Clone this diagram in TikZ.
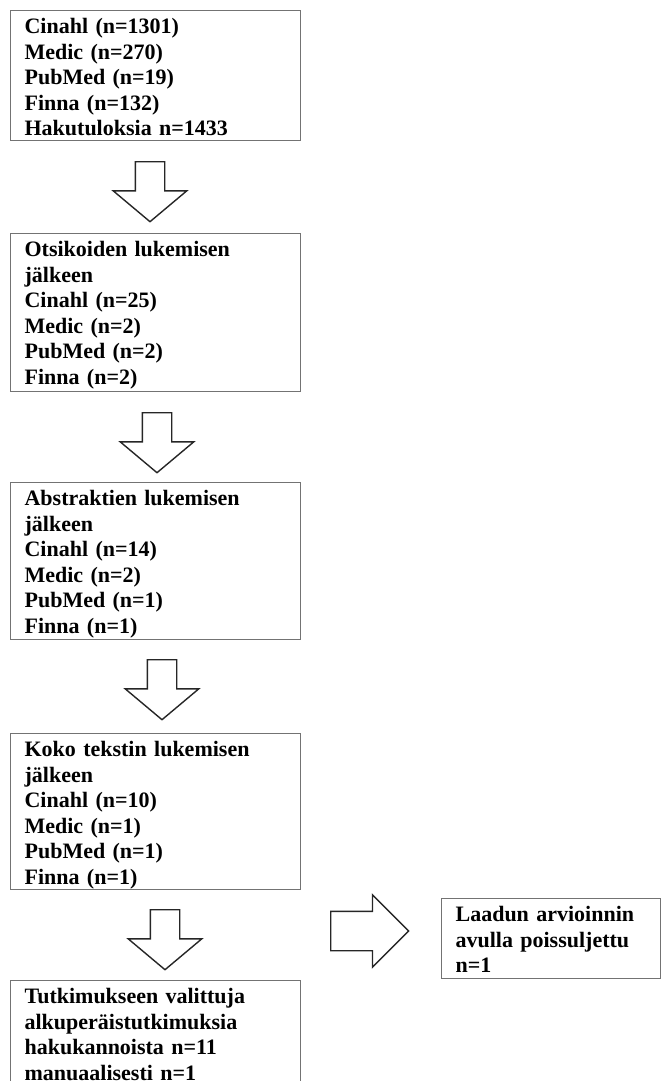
\documentclass[tikz,border=0pt]{standalone}
\usepackage{fontspec}
\setmainfont{Liberation Serif}
\usetikzlibrary{shapes.arrows}

\tikzset{
  stage/.style={draw=black!55, line width=1.2pt, anchor=north west,
    minimum width=290pt, text width=262pt, align=left,
    inner xsep=14pt, inner ysep=8pt, text height=15pt,
    font=\fontsize{22}{25.5}\selectfont\bfseries},
  downarrow/.style={draw=black!85, line width=1.4pt, single arrow,
    single arrow head extend=22pt, single arrow tip angle=100,
    minimum height=60pt, inner xsep=0pt, inner ysep=14pt,
    rotate=-90, anchor=tail},
  sidearrow/.style={draw=black!85, line width=1.4pt, single arrow,
    single arrow head extend=16.5pt, single arrow tip angle=90,
    minimum height=78pt, inner xsep=0pt, inner ysep=19pt, anchor=tail}
}

\begin{document}
\begin{tikzpicture}[x=1pt, y=-1pt]
    \useasboundingbox (0,0) rectangle (661,1081);
    \clip (0,0) rectangle (661,1081);
    % hakutulokset
    \node[stage, text depth=99pt] (b1) at (10,10)
      {Cinahl (n=1301)\\ Medic (n=270)\\ PubMed (n=19)\\ Finna (n=132)\\ Hakutuloksia n=1433};
    \node[stage, text depth=127pt] (b2) at (10,233)
      {Otsikoiden lukemisen\\ jälkeen\\ Cinahl (n=25)\\ Medic (n=2)\\ PubMed (n=2)\\ Finna (n=2)};
    \node[stage, text depth=126pt] (b3) at (10,482)
      {Abstraktien lukemisen\\ jälkeen\\ Cinahl (n=14)\\ Medic (n=2)\\ PubMed (n=1)\\ Finna (n=1)};
    \node[stage, text depth=125pt] (b4) at (10,733)
      {Koko tekstin lukemisen\\ jälkeen\\ Cinahl (n=10)\\ Medic (n=1)\\ PubMed (n=1)\\ Finna (n=1)};
    \node[stage, text depth=89pt] (b5) at (10,980)
      {Tutkimukseen valittuja\\ alkuperäistutkimuksia\\ hakukannoista n=11\\ manuaalisesti n=1};
    % poissuljettu
    \node[stage, text depth=49pt, minimum width=219pt, text width=191pt] (excl) at (441,898)
      {Laadun arvioinnin\\ avulla poissuljettu\\ n=1};
    % nuolet
    \node[downarrow] (a1) at (150,161) {};
    \node[downarrow] (a2) at (157,412) {};
    \node[downarrow] (a3) at (162,659) {};
    \node[downarrow] (a4) at (165,909) {};
    \node[sidearrow] (ar) at (330,931) {};
\end{tikzpicture}
\end{document}
